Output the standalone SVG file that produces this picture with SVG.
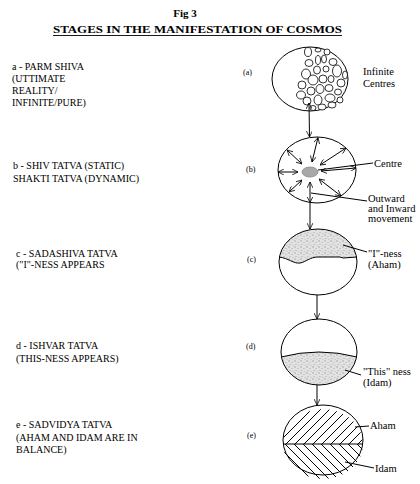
<svg xmlns="http://www.w3.org/2000/svg" width="420" height="484" viewBox="0 0 420 484">
<style>
text{font-family:"Liberation Serif","Times New Roman",serif;fill:#000}
.t{font-size:10px}
.r{font-size:10.5px}
.s{font-size:8px}
.o{fill:none;stroke:#000;stroke-width:1}
.c{fill:#fff;stroke:#000;stroke-width:0.8}
.ln{fill:none;stroke:#000;stroke-width:1}
.h{fill:none;stroke:#000;stroke-width:1}
</style>
<defs>
<marker id="ah" viewBox="0 0 10 10" refX="10" refY="5" markerWidth="6" markerHeight="6" markerUnits="userSpaceOnUse" orient="auto-start-reverse">
<path d="M0,0 L10,5 L0,10" fill="none" stroke="#000" stroke-width="1.3"/>
</marker>
<pattern id="dots" width="6" height="6" patternUnits="userSpaceOnUse">
<rect width="6" height="6" fill="#e2e2e2"/>
<circle cx="1" cy="1" r="0.7" fill="#9a9a9a"/>
<circle cx="4" cy="2.5" r="0.6" fill="#aaa"/>
<circle cx="2" cy="4.5" r="0.6" fill="#a4a4a4"/>
<circle cx="5" cy="5.2" r="0.5" fill="#b0b0b0"/>
</pattern>
<clipPath id="clipC"><ellipse cx="318" cy="262" rx="39" ry="33"/></clipPath>
<clipPath id="clipD"><ellipse cx="319" cy="352" rx="38" ry="33"/></clipPath>
<clipPath id="clipEu"><path d="M283,444 A40,35 0 0 1 363,444 Z"/></clipPath>
<clipPath id="clipEl"><path d="M283,444 A40,35 0 0 0 363,444 Z"/></clipPath>
</defs>

<g id="title">
<text x="185" y="17" text-anchor="middle" style="font-size:11px;font-weight:bold">Fig 3</text>
<text x="197.5" y="33" text-anchor="middle" textLength="289" lengthAdjust="spacingAndGlyphs" style="font-size:11px;font-weight:bold">STAGES IN THE MANIFESTATION OF COSMOS</text>
<line x1="53" y1="35.5" x2="342" y2="35.5" stroke="#000" stroke-width="0.9"/>
</g>

<g id="label-a">
<text class="t" x="12" y="70">a - PARM SHIVA</text>
<text class="t" x="12" y="82">(UTTIMATE</text>
<text class="t" x="12" y="94">REALITY/</text>
<text class="t" x="12" y="106">INFINITE/PURE)</text>
</g>
<g id="label-b">
<text class="t" x="13" y="169">b - SHIV TATVA (STATIC)</text>
<text class="t" x="13" y="182">SHAKTI TATVA (DYNAMIC)</text>
</g>
<g id="label-c">
<text class="t" x="16" y="257">c - SADASHIVA TATVA</text>
<text class="t" x="16" y="268">(&quot;I&quot;-NESS APPEARS</text>
</g>
<g id="label-d">
<text class="t" x="16" y="349">d - ISHVAR TATVA</text>
<text class="t" x="16" y="362">(THIS-NESS APPEARS)</text>
</g>
<g id="label-e">
<text class="t" x="16" y="428">e - SADVIDYA TATVA</text>
<text class="t" x="16" y="441">(AHAM AND IDAM ARE IN</text>
<text class="t" x="16" y="453">BALANCE)</text>
</g>

<g id="node-a">
<text class="s" x="243" y="75">(a)</text>
<ellipse class="o" cx="310" cy="79" rx="38" ry="32"/>
<ellipse class="c" cx="308" cy="52" rx="3.5" ry="4.5"/>
<ellipse class="c" cx="318" cy="50" rx="3" ry="2"/>
<ellipse class="c" cx="327" cy="52" rx="3" ry="3"/>
<ellipse class="c" cx="309" cy="63" rx="4" ry="3.5"/>
<ellipse class="c" cx="318" cy="60" rx="2.5" ry="4.5"/>
<ellipse class="c" cx="324" cy="59" rx="2.5" ry="4"/>
<ellipse class="c" cx="333" cy="62" rx="4" ry="3.5"/>
<ellipse class="c" cx="306" cy="74" rx="4.5" ry="5"/>
<ellipse class="c" cx="317" cy="70" rx="3.5" ry="4"/>
<ellipse class="c" cx="326" cy="69" rx="3" ry="3"/>
<ellipse class="c" cx="337" cy="71" rx="4.5" ry="6"/>
<ellipse class="c" cx="302" cy="85" rx="4" ry="4"/>
<ellipse class="c" cx="313" cy="80" rx="5" ry="5"/>
<ellipse class="c" cx="323" cy="79" rx="4" ry="4"/>
<ellipse class="c" cx="331" cy="79" rx="3" ry="3.5"/>
<ellipse class="c" cx="341" cy="83" rx="4" ry="4"/>
<ellipse class="c" cx="345" cy="75" rx="2.5" ry="4"/>
<ellipse class="c" cx="301" cy="95" rx="4.5" ry="4"/>
<ellipse class="c" cx="311" cy="91" rx="4" ry="4"/>
<ellipse class="c" cx="320" cy="89" rx="4" ry="4.5"/>
<ellipse class="c" cx="329" cy="88" rx="4" ry="3.5"/>
<ellipse class="c" cx="338" cy="92" rx="3.5" ry="3"/>
<ellipse class="c" cx="307" cy="101" rx="4" ry="4"/>
<ellipse class="c" cx="318" cy="100" rx="4" ry="5"/>
<ellipse class="c" cx="330" cy="98" rx="5" ry="4"/>
<ellipse class="c" cx="340" cy="100" rx="3" ry="3"/>
<ellipse class="c" cx="313" cy="108" rx="3" ry="2.5"/>
<ellipse class="c" cx="322" cy="107" rx="4" ry="3"/>
<ellipse class="c" cx="332" cy="105" rx="4" ry="3"/>
<text class="r" x="363" y="75">Infinite</text>
<text class="r" x="363" y="87">Centres</text>
</g>

<g id="node-b">
<text class="s" x="246" y="172">(b)</text>
<ellipse class="o" cx="317" cy="170" rx="39" ry="33"/>
<g class="ln" marker-start="url(#ah)" marker-end="url(#ah)">
<line x1="312" y1="162" x2="318" y2="137.5"/>
<line x1="320" y1="165" x2="346" y2="148"/>
<line x1="321" y1="171" x2="356" y2="168"/>
<line x1="319" y1="179" x2="341" y2="196"/>
<line x1="310" y1="182" x2="310" y2="202.5"/>
<line x1="302" y1="180" x2="289" y2="192"/>
<line x1="298" y1="172" x2="278" y2="172"/>
<line x1="302" y1="164" x2="287" y2="150"/>
</g>
<ellipse cx="310" cy="172" rx="8" ry="5" fill="#a8a8a8" stroke="#888" stroke-width="0.8"/>
<line class="ln" x1="318" y1="170" x2="373" y2="163"/>
<line class="ln" x1="311" y1="193" x2="367" y2="201"/>
<text class="r" x="374" y="167">Centre</text>
<text class="r" x="368" y="202">Outward</text>
<text class="r" x="368" y="212">and Inward</text>
<text class="r" x="368" y="222">movement</text>
</g>

<g id="node-c">
<text class="s" x="247" y="262">(c)</text>
<path d="M279,257 C288,258 294,264 300,263 C306,262 310,257 318,257 L340,257 L343,258 L357,257 L357,225 L279,225 Z" fill="url(#dots)" clip-path="url(#clipC)"/>
<ellipse class="o" cx="318" cy="262" rx="39" ry="33"/>
<path class="ln" d="M279,257 C288,258 294,264 300,263 C306,262 310,257 318,257 L340,257 L343,258 L357,257"/>
<line class="ln" x1="343" y1="245" x2="367" y2="252"/>
<text class="r" x="368" y="257">&quot;I&quot;-ness</text>
<text class="r" x="368" y="268">(Aham)</text>
</g>

<g id="node-d">
<text class="s" x="246" y="349">(d)</text>
<path d="M281,357 Q319,347 357,357 L357,390 L281,390 Z" fill="url(#dots)" clip-path="url(#clipD)"/>
<ellipse class="o" cx="319" cy="352" rx="38" ry="33"/>
<path class="ln" d="M281,357 Q319,347 357,357"/>
<line class="ln" x1="345" y1="370" x2="361" y2="375"/>
<text class="r" x="363" y="375">&quot;This&quot; ness</text>
<text class="r" x="363" y="386">(Idam)</text>
</g>

<g id="node-e">
<text class="s" x="247" y="438">(e)</text>
<path class="h" clip-path="url(#clipEu)" d="M250 444L295 399 M259 444L304 399 M268 444L313 399 M277 444L322 399 M286 444L331 399 M295 444L340 399 M304 444L349 399 M313 444L358 399 M322 444L367 399 M331 444L376 399 M340 444L385 399 M349 444L394 399 M358 444L403 399"/>
<path class="h" clip-path="url(#clipEl)" d="M240 444L280 484 M249 444L289 484 M258 444L298 484 M267 444L307 484 M276 444L316 484 M285 444L325 484 M294 444L334 484 M303 444L343 484 M312 444L352 484 M321 444L361 484 M330 444L370 484 M339 444L379 484 M348 444L388 484 M357 444L397 484"/>
<ellipse class="o" cx="323" cy="440" rx="40" ry="35"/>
<line class="ln" x1="283" y1="444" x2="363" y2="444"/>
<line class="ln" x1="355" y1="427" x2="369" y2="426"/>
<line class="ln" x1="345" y1="462" x2="374" y2="468"/>
<text class="r" x="370" y="429">Aham</text>
<text class="r" x="375" y="472">Idam</text>
</g>

<g id="connectors" class="ln">
<line x1="309" y1="103" x2="309.5" y2="137" marker-start="url(#ah)" marker-end="url(#ah)"/>
<line x1="310" y1="203" x2="310" y2="229" marker-end="url(#ah)"/>
<line x1="317" y1="295" x2="317" y2="319" marker-end="url(#ah)"/>
<line x1="317" y1="385" x2="317" y2="405" marker-end="url(#ah)"/>
</g>
</svg>
